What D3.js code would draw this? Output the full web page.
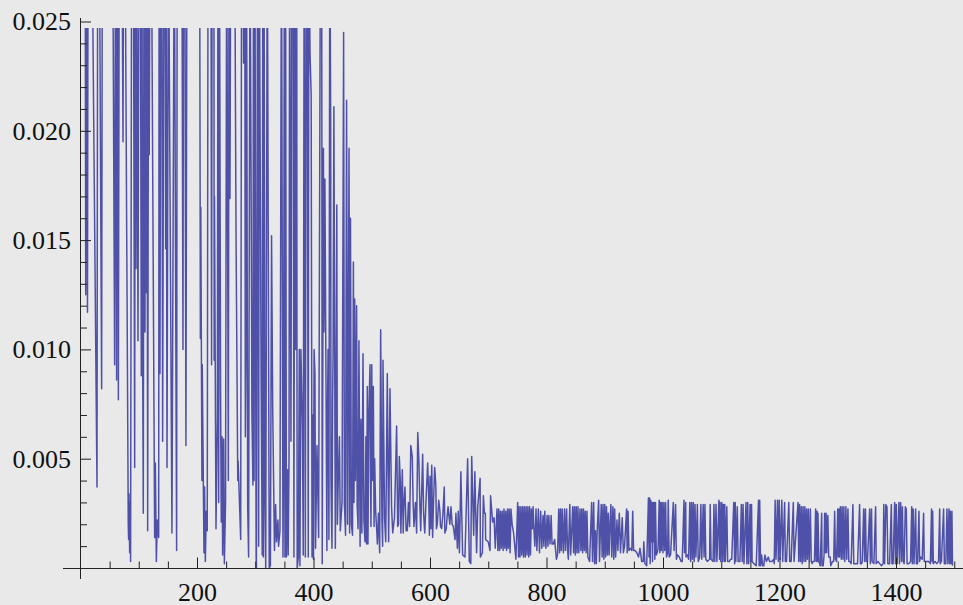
<!DOCTYPE html>
<html>
<head>
<meta charset="utf-8">
<script src="https://cdn.jsdelivr.net/npm/d3@7"></script>
<style>
  body { margin: 0; background: #e9e9e9; }
  svg { display: block; }
  .tick text { font-family: "Liberation Serif", serif; font-size: 26px; fill: #111; }
  .tick line { stroke: #222; stroke-width: 1; }
</style>
</head>
<body>
<svg width="963" height="605"></svg>
<script>
'use strict';

// series, y in units of 0.0001. 300 is any peak above the clipped top
var xA = [8,9,10,12,13,19.5,28.3,29.5,32.3,36.3,
  37.5,55.2,58.6,60,62,63,64,65,66.6,71,
  73,74,76.4,82,82.6,83.2,84.4,85.5,86,87.8,
  90.7,93,94,95.3,96.5,98.7,100.4,102.7,104.4,105.5,
  106.5,107.8,109,110.7,112,113,114,115.3,117,118,
  119.3,121.6,127.3,128.5,130.2,131.9,134.2,135,136.4,138,
  139.5,141,143.3,145,146.2,147,148.5,151,157,161,
  165,166,174,175.9,177,179,181,182.8,204.5,205.8,
  206.5,208.5,209,212,213,214.3,216,217.6,219,224,
  225,226,229,229.5,230,232.6,235];
var yA = [300,125,300,117,300,300,37,300,300,82,
  300,300,93,300,86,300,300,77,300,300,
  195,300,300,20,13,34,7,30,3,300,
  300,46,300,137,300,104,300,300,88,300,
  113,25,300,108,300,126,300,17,300,189,
  300,300,14,48,3,22,14,300,89,300,
  300,58,300,300,146,300,46,300,16,300,
  8,300,300,100,300,300,56,300,300,105,
  165,40,93,7,37,3,26,17,300,300,
  93,300,300,95,170,18,70];

var xB = [236,237.2,238.5,240.5,241.7,243,244,245.8,247,249,
  251,253.8,255,256.6,258,264.6,267,270,270.6,275,
  276.6,279,280,282,284,285,287,288.6,291,293.8,
  294.2,296,297,299.5,300.7,301.5,302,304,305.8,307,
  308,310,312,313,315,316.7,318,320.7,324,326,
  328,330,333,335,336.5,339,340,341,342.4,345,
  347.6,348.7,350,352,353.5,355.6,356.5,358,359,361.3,
  363,365,366.4,368,371.2,371.6,372,375.6,376.7,378.4,
  381,382.4,384,389,391,392,394,396,397.5,400,
  402.5,403.5,406,408.8,412,414,415,417,418,419.6,
  423,423.5,426.5,428,429.5,430,431.7,432.8,435,437.5,
  440,442.5,444.5,446];
var yB = [300,30,300,79,21,60,6,59,2,30,
  300,40,300,169,300,300,153,40,49,13,
  300,300,231,300,100,300,28,5,300,113,
  73,38,300,300,98,5,0,300,10,300,
  221,91,6,300,300,29,0,300,0,1,
  152,72,8,29,12,22,10,13,17,300,
  5,54,300,300,5,45,6,52,300,58,
  300,300,5,300,300,101,0,100,1,100,
  65,6,300,300,5,300,236,216,5,4,
  89,9,56,14,300,300,2,192,108,178,
  8,55,13,300,205,40,9,76,211,9,
  166,40,60,17];

var xC = [449,451.7,453,455,456.8,458.5,461,462,463.5,465,
  467,468.5,469.5,470.7,472,474,475,476.5,478,480,
  481.5,483,485,486.5,488.4,490,491,492.4,493.5,495,
  497,497.8,498.7,500,501,502.7,504,505,506.7,509,
  509.6,511.5,513.6,515.3,517.5,518.7,519.3,522,524,526.7,
  529,531.3,534,536,539,542.7,544.5,547.3,550,552.5,
  554,557,559,563,565,567,569.6,572.5,577,579,
  581,584,587.4,591,596,599,600,603,604.5,608,
  610,612.5,615,618,624.5,625.5,631,634,640,643,
  644.5,647,648.5,650.5,653,656,660,664.6,667.5,670,
  671.6,675,677,680];
var yC = [30,245,30,15,214,20,192,16,160,20,
  15,140,30,123,40,120,29,18,104,10,
  68,16,98,22,12,60,11,83,11,70,
  93,43,19,93,40,83,19,50,26,15,
  11,25,7,109,22,10,95,23,12,89,
  12,82,28,16,23,65,19,51,16,45,
  16,37,17,30,19,56,51,19,16,62,
  48,17,52,16,48,15,42,47,14,46,
  38,20,31,19,37,16,28,20,19,13,
  25,9,26,7,44,6,5,50,3,2,
  51,15,44,7];

var xD = [682,686,686.5,690,691.6,693.5,695,695.5,700,703,
  704,707.5,710,712,715,716.5,718,719.5,721,722.5,
  724,725.5,727,728.5,730,731.5,733,734.5,736,737.5,
  739,741,743.5,747.5,750.5,752,753,754.5,756,757.5,
  759,760.5,762,763.5,765,766.5,768,769.5,771,772.5,
  774,775.5,777,778,780,782,783.5,786,788,790,
  792,794,795.5,797,799,801,802.5,804,806,808,
  809.5,811.7,814,817,819,821,822.5,824,825.5,827,
  829,831,832.5,834.5,836,837.5,840,841.5,845,846.5,
  848,849.5,851,852.5,854,855.5,857.5,859,860.5,862,
  863.5,865,866.5,868,869.5,871,874,877.5,879,881,
  882.5,884,885.5,887,889.5,891,892.5,894,895.5,897,
  898.5,900,901.5,903,904.5,906,907.5,909,910.6,912,
  914,915.5,917,918.7,921,922.5,925,927,930,932,
  934,937.5,938.5,940,941.5,944,946.5,948,949.5,952,
  955,958,960.5,963.4,966,967,969,972];
var yD = [28,41,5,7,33,25,25,13,12,8,
  33,21,23,9,27,8,27,8,26,9,
  26,8,27,9,26,8,27,9,27,7,
  27,20,16,4,30,5,28,5,28,6,
  28,5,28,5,28,6,28,5,28,6,
  27,18,28,20,10,27,8,27,7,26,
  9,24,10,26,9,24,10,24,11,24,
  11,11,13,4,6,27,7,27,8,27,
  7,27,8,27,9,4,29,6,28,7,
  28,6,28,7,28,7,27,8,27,7,
  27,8,26,7,26,5,3,30,3,30,
  2,17,2,17,31,3,17,29,5,29,
  4,29,5,28,6,25,6,20,29,5,
  28,4,27,5,22,8,25,7,23,7,
  10,27,7,26,8,9,8,26,8,8,
  7,5,9,3,3,12,2,1];

var xE = [975,976,977,978,979,980,981,982,983,984,
  985,986,987,988.5,990,991.5,993.5,994.5,996,997,
  998.5,1000,1001.5,1003,1004.5,1006,1008,1009,1010.5,1013,
  1017.7,1019,1021.6,1023,1025,1028,1031,1033,1036,1037,
  1039,1039.5,1042,1044,1046,1047.5,1049,1050.5,1052,1053.5,
  1055,1056.5,1059,1060.5,1063,1065,1066.5,1069,1070.5,1072,
  1073.5,1076,1080,1081,1082.5,1086,1087.5,1089,1091,1092.5,
  1096,1097,1098,1099,1101,1102,1103.5,1105,1106,1107,
  1109.5,1111,1114,1116,1118,1121.5,1123,1124,1125,1127.5,
  1129,1132,1134.5,1136,1137.5,1139,1142.5,1144,1145.5,1147,
  1149.5,1150.5,1152,1153,1156,1160,1164,1165,1166,1167.5,
  1169.3,1171,1173,1175,1177.5,1180.8,1183,1187,1190,1191,
  1192.5,1194,1196.5,1198,1199.5,1201,1204,1205.5,1208.8,1210,
  1212,1216,1217.5,1220,1223.7,1225];
var yE = [32,5,32,2,31,12,30,3,30,12,
  30,4,30,6,7,9,31,7,30,8,
  30,7,30,8,30,5,7,31,5,6,
  30,8,29,4,6,5,3,3,31,7,
  30,5,6,4,30,3,30,4,30,3,
  29,5,29,3,5,29,4,29,5,29,
  4,3,4,29,4,3,29,3,29,3,
  31,4,30,3,30,3,29,3,29,3,
  28,3,3,4,4,30,2,30,3,28,
  3,3,29,3,29,2,30,2,30,2,
  29,3,29,3,2,1,31,1,31,1,
  6,1,1,6,3,5,3,3,4,2,
  31,4,31,3,31,4,31,3,30,3,
  3,30,3,3,30,3];

var xF = [1231.8,1233,1234.5,1236,1237.5,1239,1240.5,1242,1243.5,1245,
  1246.5,1248,1249.5,1251,1253,1254.5,1256,1257,1258,1260,
  1262,1263,1264.5,1265,1266,1267.5,1270,1272.4,1273,1275,
  1276.5,1277.5,1278.5,1280,1281,1283,1284.5,1287,1288,1291,
  1293,1294.7,1296,1298,1300,1301,1302,1303,1304.5,1306,
  1307.5,1309,1310.5,1312,1314,1315.5,1317.5,1319,1321,1323,
  1326,1327.5,1331,1334,1337.5,1339,1341,1342,1344.5,1346,
  1347.5,1349,1351,1354.8,1356,1358,1359,1362,1365,1366,
  1369,1372,1375,1378,1379,1380.5,1382.5,1384.5,1386,1389,
  1392,1393,1395,1397.7,1399,1400.5,1402,1405,1406,1408,
  1409.5,1411,1412.5,1414,1416,1417.7,1419,1422,1425,1427,
  1428,1429.5,1431,1433.7,1435,1437,1439.4,1440.5,1442,1445,
  1447.4,1448.5,1452,1456,1459,1461,1462,1463,1464,1467,
  1470,1473,1475,1476,1478,1481.7,1483,1485.5,1487.5,1489,
  1491,1492,1493.2,1494.5,1496,1497];
var yF = [30,3,29,3,28,2,28,3,28,3,
  27,4,27,3,27,3,2,3,3,3,
  27,3,26,3,25,3,1,25,1,1,
  6,25,7,25,7,24,5,5,1,3,
  3,26,4,3,27,5,27,5,28,4,
  28,4,28,3,28,4,27,3,3,2,
  29,2,2,2,29,2,2,3,27,3,
  27,3,3,27,2,27,3,2,28,2,
  3,2,1,2,29,2,29,28,2,2,
  29,2,2,30,2,29,2,30,2,30,
  3,28,3,2,28,27,2,2,3,28,
  2,27,2,27,2,2,26,3,5,4,
  25,3,3,3,2,27,3,26,2,3,
  2,3,27,2,3,27,2,2,27,2,
  27,2,26,2,26,1];

// second pass over the dense stretches, merged in by x
var xExtra = [283,298,314,351,369.5,374,386,387.5,399,401,
  425,433.7,438.5,441,546,549,555,561,571,575,
  582.5,589,593.5,598,601.5,606,611,617,620,622,
  628,629.5,636,638];
var yExtra = [60,40,5,5,100,5,5,300,70,100,
  100,100,60,20,20,40,28,17,30,30,
  30,25,33,30,18,30,18,26,18,24,
  18,24,28,20];

// tick values
var xMajor = [200, 400, 600, 800, 1000, 1200, 1400];
var xMinor = [50, 100, 150, 250, 300, 350, 450, 500, 550, 650, 700, 750, 850, 900, 950,
  1050, 1100, 1150, 1250, 1300, 1350, 1450, 1500];
var yMajor = [0.005, 0.010, 0.015, 0.020, 0.025];
var yMinor = [0.001, 0.002, 0.003, 0.004, 0.006, 0.007, 0.008, 0.009, 0.011, 0.012, 0.013, 0.014,
  0.016, 0.017, 0.018, 0.019, 0.021, 0.022, 0.023, 0.024];

var clipTop = 0.0247;

var xs = [].concat(xA, xB, xC, xD, xE, xF, xExtra);
var ys = [].concat(yA, yB, yC, yD, yE, yF, yExtra);
var points = d3.zip(xs, ys).sort(function(a, b) { return d3.ascending(a[0], b[0]); });

var x = d3.scaleLinear().domain([0, 1500]).range([80.5, 954.25]);
var y = d3.scaleLinear().domain([0, 0.025]).range([568, 21.5]);

var svg = d3.select('svg');

svg.append('defs').append('clipPath').attr('id', 'plot')
    .append('rect')
    .attr('x', x(0))
    .attr('y', y(clipTop))
    .attr('width', 963 - x(0))
    .attr('height', y(0) - y(clipTop) + 0.5);

// the series
var line = d3.line()
    .x(function(d) { return x(d[0]); })
    .y(function(d) { return y(d[1] / 10000); });

svg.append('path')
    .datum(points)
    .attr('clip-path', 'url(#plot)')
    .attr('fill', 'none')
    .attr('stroke', '#4f51a8')
    .attr('stroke-width', 1.5)
    .attr('stroke-linejoin', 'round')
    .attr('d', line);

// axes: long ticks with labels, short ticks without
function xAxis(values, size, labels) {
    var axis = d3.axisBottom(x).tickValues(values).tickSizeInner(-size).tickSizeOuter(0).tickPadding(15);
    axis.tickFormat(labels ? d3.format('d') : '');
    var g = svg.append('g').attr('transform', 'translate(0,568)').call(axis);
    g.select('.domain').remove();
}

function yAxis(values, size, labels) {
    var axis = d3.axisLeft(y).tickValues(values).tickSizeInner(-size).tickSizeOuter(0).tickPadding(9.5);
    axis.tickFormat(labels ? d3.format('.3f') : '');
    var g = svg.append('g').attr('transform', 'translate(80.5,0)').call(axis);
    g.select('.domain').remove();
}

xAxis(xMinor, 6.5, false);
xAxis(xMajor, 10.5, true);
yAxis(yMinor, 6.5, false);
yAxis(yMajor, 10.5, true);

// axis lines run past the scale ranges
svg.append('line').attr('x1', 63).attr('x2', 963).attr('y1', 568.5).attr('y2', 568.5)
    .attr('stroke', '#222').attr('stroke-width', 1);
svg.append('line').attr('x1', 80.5).attr('x2', 80.5).attr('y1', 18).attr('y2', 579)
    .attr('stroke', '#222').attr('stroke-width', 1);
</script>
</body>
</html>
